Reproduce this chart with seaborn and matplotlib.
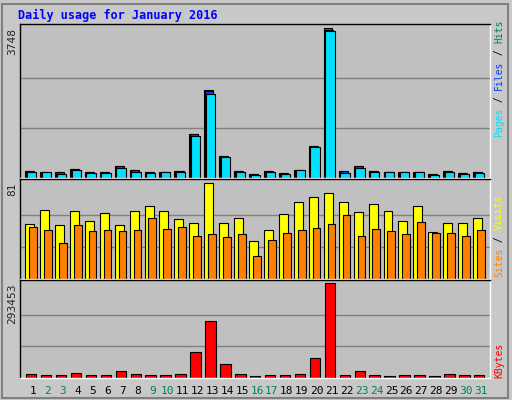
import matplotlib
matplotlib.use("Agg")
import matplotlib.pyplot as plt
import seaborn as sns
import numpy as np

days = list(range(1, 32))
weekends = [2, 3, 9, 10, 16, 17, 23, 24, 30, 31]
hits = [170,144,144,220,144,144,297,195,144,144,170,1111,2205,551,170,93,170,119,195,806,3748,170,297,170,144,144,144,93,170,119,144]
files = [165,140,140,215,140,140,290,190,140,140,165,1090,2170,540,165,90,165,115,190,795,3700,165,290,165,140,140,140,90,165,115,140]
pages = [150,140,110,190,120,120,250,160,120,140,140,1060,2103,526,150,80,140,105,190,780,3680,130,260,150,140,140,140,80,140,105,120]
sites = [46.5,58,45.6,57,49,55,45.6,57,61.5,57,50,47.4,81,47.4,51,31.5,41.5,54.5,65,68.6,72,65,56,63,57,49,61.5,39.5,47.4,47.4,51]
visits = [44,41,30.6,45.6,40,41,40,41,51,42,44,36,37.7,35,37.7,19,33,38.6,41,43,46.5,53.6,36,42,40,37.7,48,38.6,38.6,36,41]
kbytes = [12800,9600,9600,16000,9600,9600,22400,12800,9600,9600,12800,80000,176000,44800,12800,6400,9600,9600,12800,60800,293453,9600,22400,9600,6400,9600,9600,6400,12800,9600,9600]

sns.set_theme(style="white")
plt.rcParams['font.family'] = ['DejaVu Sans Mono']

W, H = 512, 400
fig = plt.figure(figsize=(W/100, H/100), dpi=100, facecolor='#C8C8C8')
fig.patches.append(plt.Rectangle((2/W, 2/H), (W-6)/W, (H-6)/H, transform=fig.transFigure,
                                 fill=False, edgecolor='#808080', lw=1.5))

def mk(top, bot):
    return fig.add_axes([20/W, 1-bot/H, 470/W, (bot-top)/H])

axes = [mk(24, 178), mk(179, 279), mk(280, 378)]
d = np.array(days)
ax1, ax2, ax3 = axes
ax1.bar(d-0.53, hits, width=0.55, align='edge', color='#00805C', edgecolor='black', lw=0.8)
ax1.bar(d-0.47, files, width=0.55, align='edge', color='#0040FF', edgecolor='black', lw=0.8)
ax1.bar(d-0.42, pages, width=0.62, align='edge', color='#00E0FF', edgecolor='black', lw=0.8)
ax2.bar(d-0.53, sites, width=0.6, align='edge', color='#FFFF00', edgecolor='black', lw=0.8)
ax2.bar(d-0.27, visits, width=0.52, align='edge', color='#FF8000', edgecolor='black', lw=0.8)
ax3.bar(d-0.47, kbytes, width=0.7, align='edge', color='#FF0000', edgecolor='black', lw=0.8)

for ax, mx, fac in [(ax1, max(hits), 455/442), (ax2, max(sites), 285/275), (ax3, max(kbytes), 285/275)]:
    ax.set_facecolor('#C0C0C0')
    ax.set_xlim(0.13, 31.6)
    ax.set_ylim(0, mx*fac)
    for g in (mx/3, 2*mx/3):
        ax.axhline(g, color='#808080', lw=1, zorder=0)
    ax.set_yticks([mx])
    ax.set_yticklabels([str(int(round(mx)))], rotation=90, va='top', fontsize=8)
    ax.tick_params(axis='y', length=0, pad=2)
    ax.set_xticks([])
    for s in ax.spines.values():
        s.set_color('white'); s.set_linewidth(1)
    ax.spines['left'].set_color('black'); ax.spines['top'].set_color('black')

ax3.set_xticks(days)
ax3.set_xticklabels([str(x) for x in days], fontsize=8)
for lab, x in zip(ax3.get_xticklabels(), days):
    lab.set_color('#00805C' if x in weekends else 'black')
ax3.tick_params(axis='x', length=0, pad=6)

fig.text(18/W, 1-15/H, 'Daily usage for January 2016', color='#0000FF', fontsize=8.5,
         fontweight='bold', va='center', ha='left')

FS = 7
ADV = FS * 100 / 72 * 0.602

def rlabel(parts, ybottom):
    y = ybottom
    for txt, col in parts:
        fig.text(499/W, 1-y/H, txt, color=col, rotation=90, fontsize=FS, ha='center', va='bottom')
        y -= len(txt) * ADV

rlabel([('Pages', '#00E0FF'), (' / ', 'black'), ('Files', '#0040FF'), (' / ', 'black'), ('Hits', '#00805C')], 137)
rlabel([('Sites', '#FF8000'), (' / ', 'black'), ('Visits', '#FFFF00')], 277)
rlabel([('KBytes', '#FF0000')], 378)

fig.savefig('out.png', dpi=100, facecolor=fig.get_facecolor())
